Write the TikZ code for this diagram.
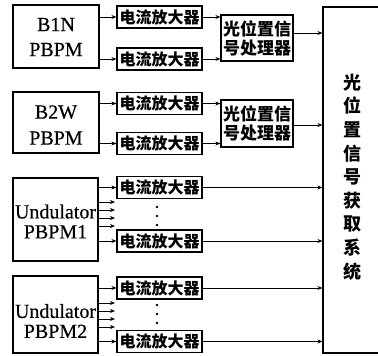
\documentclass[tikz,border=0pt]{standalone}
\usepackage{fontspec}
\setmainfont{Liberation Serif}[FakeBold=0.4]
\newfontfamily\cjk{Noto Sans CJK SC}
\usetikzlibrary{arrows.meta}
\tikzset{
 box/.style={draw, line width=1.1pt, inner sep=0pt},
 src/.style={box, minimum width=86pt},
 amp/.style={box, minimum width=85pt, minimum height=22pt, font=\cjk\bfseries\fontsize{16}{16}\selectfont},
 proc/.style={box, minimum width=72pt, align=center, font=\cjk\bfseries\fontsize{17}{19}\selectfont},
 lbl/.style={align=center, inner sep=0pt},
 arr/.style={line width=0.9pt, -{Stealth[length=5pt,width=4pt]}},
 dotmark/.style={circle, fill, inner sep=0pt, minimum size=2.8pt},
}
\begin{document}
\begin{tikzpicture}[x=1pt,y=-1pt]
\useasboundingbox (0,0) rectangle (378,356);
% source boxes
\node[src, minimum height=63pt] (b1n) at (56,36.5) {};
\node[lbl, font=\fontsize{20}{25}\selectfont] (b1nt) at (56,37) {B1N\\PBPM};
\node[src, minimum height=61pt] (b2w) at (56,122.5) {};
\node[lbl, font=\fontsize{20}{26}\selectfont] (b2wt) at (56,125) {B2W\\PBPM};
\node[src, minimum width=85pt, minimum height=83pt] (u1) at (55.5,219.5) {};
\node[lbl, font=\fontsize{20}{20}\selectfont] (u1t) at (55.5,221.5) {Undulator\\PBPM1};
\node[src, minimum width=85pt, minimum height=77pt] (u2) at (55.5,314.5) {};
\node[lbl, font=\fontsize{20}{20}\selectfont] (u2t) at (55.5,321) {Undulator\\PBPM2};
% amplifiers
\node[amp] (a1) at (159.5,17) {电流放大器};
\node[amp] (a2) at (159.5,59) {电流放大器};
\node[amp] (a3) at (159.5,103.5) {电流放大器};
\node[amp] (a4) at (159.5,143.5) {电流放大器};
\node[amp] (a5) at (159.5,187.5) {电流放大器};
\node[amp] (a6) at (159.5,241) {电流放大器};
\node[amp] (a7) at (159.5,288) {电流放大器};
\node[amp] (a8) at (159.5,341.5) {电流放大器};
% processors
\node[proc, minimum height=46pt] (p1) at (257,38) {光位置信\\号处理器};
\node[proc, minimum height=47pt] (p2) at (257,123.5) {光位置信\\号处理器};
% system
\node[box, minimum width=57pt, minimum height=346pt] (sys) at (351.5,180) {};
\node[lbl, font=\cjk\bfseries\fontsize{18}{23.6}\selectfont] (syst) at (352,177) {光\\位\\置\\信\\号\\获\\取\\系\\统};
% connectors
\foreach \s/\a in {b1n/a1,b1n/a2,b2w/a3,b2w/a4,u1/a5,u1/a6,u2/a7,u2/a8}
  \draw[arr] (\s.east |- \a) -- (\a.west);
\foreach \a/\p in {a1/p1,a2/p1,a3/p2,a4/p2}
  \draw[arr] (\a.east) -- (\p.west |- \a);
\coordinate (p1o) at ([yshift=5pt]p1.east);
\coordinate (p2o) at ([yshift=-1.5pt]p2.east);
\draw[arr] (p1o) -- (sys.west |- p1o);
\draw[arr] (p2o) -- (sys.west |- p2o);
\foreach \a in {a5,a6,a7,a8}
  \draw[arr] (\a.east) -- (sys.west |- \a);
% extra channels
\foreach \y in {202,210,218,226} {
  \coordinate (ue\y) at (115,\y);
  \draw[arr] (u1.east |- ue\y) -- (ue\y);
}
\foreach \y in {303,311,319,327} {
  \coordinate (ve\y) at (115,\y);
  \draw[arr] (u2.east |- ve\y) -- (ve\y);
}
\foreach \y in {207,216,225} \node[dotmark] (d\y) at (157,\y) {};
\foreach \y in {305,314,323} \node[dotmark] (e\y) at (157,\y) {};
\end{tikzpicture}
\end{document}
